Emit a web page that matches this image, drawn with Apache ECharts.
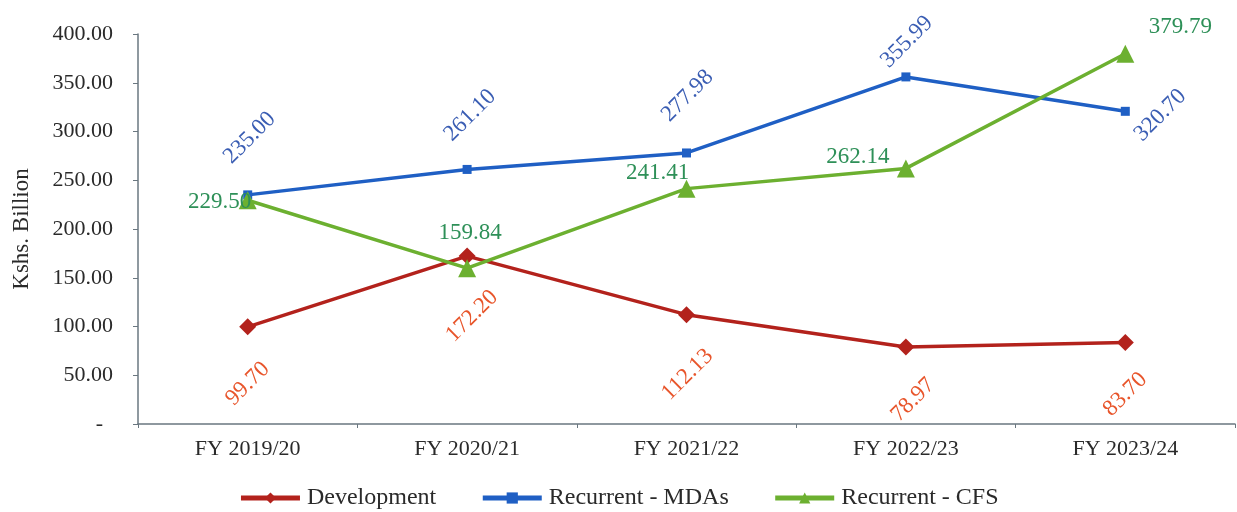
<!DOCTYPE html>
<html><head><meta charset="utf-8">
<script src="https://cdn.jsdelivr.net/npm/echarts@6/dist/echarts.min.js"></script>
<style>html,body{margin:0;padding:0;background:#fff}#c{width:1237px;height:512px}</style>
</head><body><div id="c"></div>
<script>
const categories = ['FY 2019/20','FY 2020/21','FY 2021/22','FY 2022/23','FY 2023/24'];
const development = [99.70, 172.20, 112.13, 78.97, 83.70];
const recurrentMDAs = [235.00, 261.10, 277.98, 355.99, 320.70];
const recurrentCFS = [229.50, 159.84, 241.41, 262.14, 379.79];
const yTicks = [0, 50, 100, 150, 200, 250, 300, 350, 400];

// label placement in screen pixels relative to the point (style only)
const devOffsets = [[0,57],[5,60],[1,60],[7,53],[0,52]];
const mdaOffsets = [[2,-57],[3,-54],[1,-57],[1,-35],[35,4]];
const cfsOffsets = [[-28,2],[3,-35],[-29,-16],[-48,-11],[55,-27]];

const serif = '"Liberation Serif", "DejaVu Serif", serif';

function toLocal(off, rotateDeg) {
  // ECharts applies label offset in the rotated frame; convert screen offset
  const a = rotateDeg * Math.PI / 180;
  const dx = off[0], dy = off[1];
  const c = Math.cos(a), s = Math.sin(a);
  return [dx * c - dy * s, dx * s + dy * c];
}

function build(values, offsets, rotate, color) {
  return values.map((v, i) => ({
    value: v,
    label: {
      show: true, position: 'inside', offset: toLocal(offsets[i], rotate), rotate: rotate,
      align: 'center', verticalAlign: 'middle',
      color: color, fontFamily: serif, fontSize: 23,
      formatter: p => p.value.toFixed(2)
    }
  }));
}

const chart = echarts.init(document.getElementById('c'));
chart.setOption({
  animation: false,
  backgroundColor: '#fff',
  grid: { left: 138, right: 2, top: 34, bottom: 88, containLabel: false },
  legend: {
    top: 481, left: 'center', itemWidth: 59, itemHeight: 14, itemGap: 44,
    textStyle: { fontFamily: serif, fontSize: 24, color: '#2a2a2a', padding: [0, 0, 0, 2] },
    lineStyle: { width: 5 },
    data: ['Development', 'Recurrent - MDAs', 'Recurrent - CFS']
  },
  xAxis: {
    type: 'category', data: categories, boundaryGap: true,
    axisLine: { lineStyle: { color: '#6a7780', width: 1.5 } },
    axisTick: { show: true, length: 4, inside: false, lineStyle: { color: '#6a7780' } },
    axisLabel: { fontFamily: serif, fontSize: 22, color: '#2a2a2a', margin: 14 }
  },
  yAxis: {
    type: 'value', min: 0, max: 400, interval: 50,
    name: 'Kshs. Billion', nameLocation: 'middle', nameGap: 105, nameRotate: 90,
    nameTextStyle: { fontFamily: serif, fontSize: 23, color: '#2a2a2a' },
    axisLine: { show: true, lineStyle: { color: '#6a7780', width: 1.5 } },
    axisTick: { show: true, length: 5, lineStyle: { color: '#6a7780' } },
    splitLine: { show: false },
    axisLabel: { fontFamily: serif, fontSize: 22, color: '#2a2a2a', margin: 25,
      formatter: v => v === 0 ? '{d|-}' : v.toFixed(2),
      rich: { d: { fontFamily: serif, fontSize: 22, color: '#2a2a2a', padding: [0, 10, 0, 0] } } }
  },
  series: [
    { name: 'Development', type: 'line', data: build(development, devOffsets, 45, '#e8552b'),
      symbol: 'diamond', symbolSize: 17, lineStyle: { color: '#b3221c', width: 3.5 },
      itemStyle: { color: '#b3221c' }, z: 3 },
    { name: 'Recurrent - MDAs', type: 'line', data: build(recurrentMDAs, mdaOffsets, 45, '#3a5db3'),
      symbol: 'rect', symbolSize: 9, lineStyle: { color: '#1f5fc4', width: 3.5 },
      itemStyle: { color: '#1f5fc4' }, z: 4 },
    { name: 'Recurrent - CFS', type: 'line', data: build(recurrentCFS, cfsOffsets, 0, '#2e9058'),
      symbol: 'triangle', symbolSize: 18, lineStyle: { color: '#6cb030', width: 3.5 },
      itemStyle: { color: '#6cb030' }, z: 5 }
  ]
});
</script></body></html>
